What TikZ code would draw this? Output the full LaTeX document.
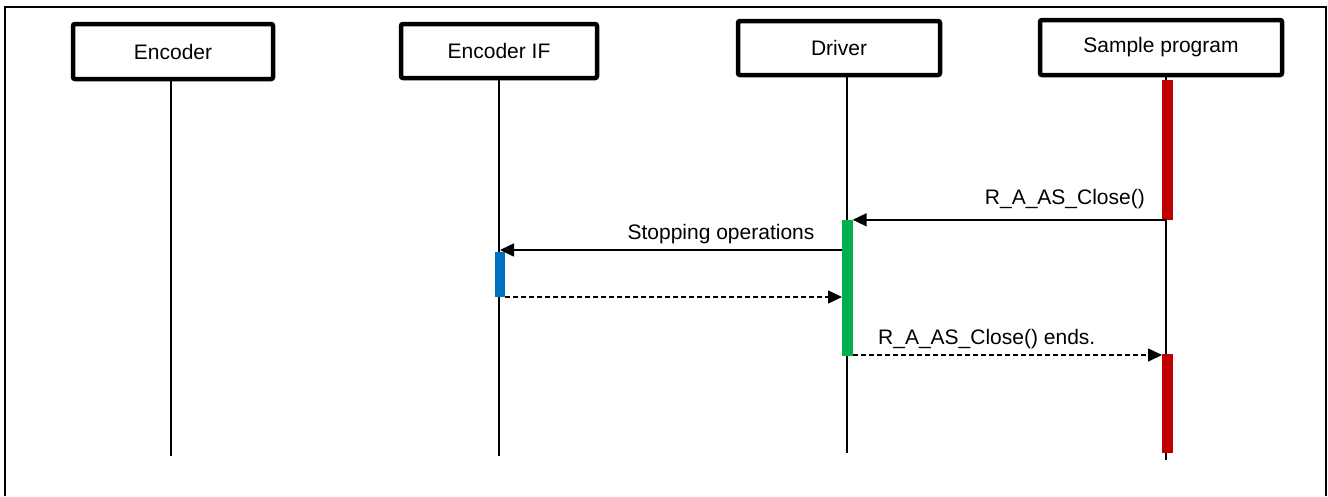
\documentclass[tikz,border=0pt]{standalone}
\usepackage{fontspec}
\setmainfont{Liberation Sans}
\usetikzlibrary{arrows.meta}
\definecolor{actred}{HTML}{C00000}
\definecolor{actgreen}{HTML}{00B050}
\definecolor{actblue}{HTML}{0070C0}
\tikzset{
  lane/.style={draw=black, line width=4.5pt, rounded corners=2pt, fill=white, inner sep=0pt,
    font=\fontsize{21}{25}\selectfont},
  life/.style={draw=black, line width=1.6pt},
  actbar/.style={inner sep=0pt, minimum width=11pt, draw=none},
  msg/.style={line width=1.6pt, -{Triangle[length=14pt,width=13pt]}},
  ret/.style={msg, dash pattern=on 5pt off 3pt},
  lbl/.style={font=\fontsize{21}{25}\selectfont, inner sep=0pt},
  frame/.style={line width=2pt}
}
\begin{document}
\begin{tikzpicture}[x=1pt,y=-1pt]
\useasboundingbox (0,0) rectangle (1328,496);
\fill[white] (0,0) rectangle (1328,496);
\draw[frame] (5,496) -- (5,7) -- (1326,7) -- (1326,496);

% lanes
\node[lane, minimum width=200pt, minimum height=55pt] (enc) at (173,51.5) {Encoder};
\node[lane, minimum width=196pt, minimum height=54pt] (eif) at (499,51) {Encoder IF};
\node[lane, minimum width=202pt, minimum height=54pt] (drv) at (839,48) {Driver};
\node[lane, minimum width=242pt, minimum height=55pt] (smp) at (1161,47.5) {Sample program};

% lifelines
\coordinate (encT) at (171,79); \coordinate (encB) at (171,456);
\coordinate (eifT) at (499,78); \coordinate (eifB) at (499,456);
\coordinate (drvT) at (847,75); \coordinate (drvB) at (847,453);
\coordinate (smpT) at (1166,75); \coordinate (smpB) at (1166,460);
\draw[life] (encT) -- (encB);
\draw[life] (eifT) -- (eifB);
\draw[life] (drvT) -- (drvB);
\draw[life] (smpT) -- (smpB);

% activation bars
\node[actbar, fill=actred, minimum height=140pt] (r1) at (1167,150) {};
\node[actbar, fill=actgreen, minimum height=136pt] (g1) at (847,288) {};
\node[actbar, fill=actblue, minimum width=10pt, minimum height=45pt] (b1) at (500,274.5) {};
\node[actbar, fill=actred, minimum height=99pt] (r2) at (1167.5,403.5) {};

% messages
\draw[msg] (smpT |- g1.north) -- (g1.north east);
\node[lbl, anchor=base east] (l1) at (1145,204) {R\_A\_AS\_Close()};

\coordinate (m2s) at (842,250);
\coordinate (m2e) at (500,250);
\draw[msg] (m2s) -- (m2e);
\node[lbl, anchor=base] (l2) at (721,239) {Stopping operations};

\coordinate (m3s) at (505,297);
\coordinate (m3e) at (842,297);
\draw[ret] (m3s) -- (m3e);

\coordinate (m4s) at (853,355);
\coordinate (m4e) at (1162,355);
\draw[ret] (m4s) -- (m4e);
\node[lbl, anchor=base west] (l4) at (878,344) {R\_A\_AS\_Close() ends.};
\end{tikzpicture}
\end{document}
